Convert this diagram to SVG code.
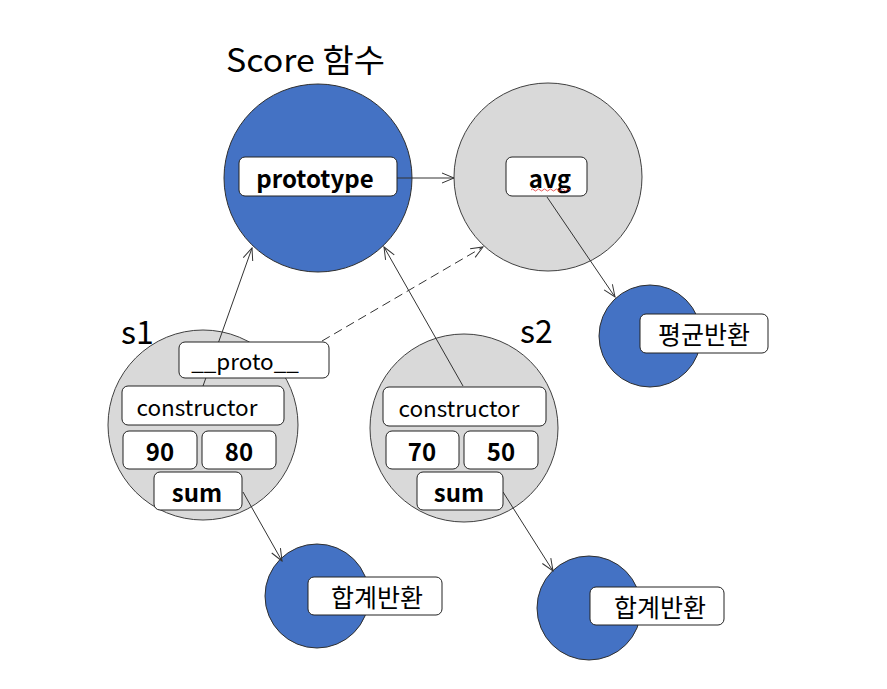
<svg xmlns="http://www.w3.org/2000/svg" width="887" height="689" viewBox="0 0 887 689">
<defs>
<marker id="arr" viewBox="0 0 14 12" refX="13" refY="6" markerWidth="14" markerHeight="12" markerUnits="userSpaceOnUse" orient="auto">
<path d="M1,1 L13,6 L1,11" fill="none" stroke="#333" stroke-width="1"/>
</marker>
<style>
.blue{fill:#4472C4;stroke:#2F2F2F;stroke-width:1}
.gray{fill:#D9D9D9;stroke:#404040;stroke-width:1}
.box{fill:#fff;stroke:#222;stroke-width:1}
.t{font-family:"Noto Sans CJK KR","Noto Sans",sans-serif;fill:#000;text-anchor:middle;dominant-baseline:central}
.b{font-weight:bold;font-size:24px}
.r{font-size:22.5px}
.k{font-size:25px}
.lbl{font-family:"Noto Sans CJK KR","Noto Sans",sans-serif;font-size:32px;fill:#000}
.c{fill:none;stroke:#333;stroke-width:1}
</style>
</defs>
<rect width="887" height="689" fill="#fff"/>

<g id="score">
<text class="lbl" x="226" y="72" textLength="159" lengthAdjust="spacingAndGlyphs">Score 함수</text>
<circle class="blue" cx="318" cy="178" r="94"/>
</g>
<g id="avgobj">
<circle class="gray" cx="548" cy="177" r="94"/>
</g>
<g id="s1">
<text class="lbl" x="121" y="344">s1</text>
<circle class="gray" cx="203" cy="425" r="95"/>
</g>
<g id="s2">
<text class="lbl" x="520" y="343">s2</text>
<circle class="gray" cx="464" cy="428" r="94"/>
</g>
<g id="avgret">
<circle class="blue" cx="650" cy="336" r="51"/>
</g>
<g id="sumret1">
<circle class="blue" cx="317" cy="596" r="52"/>
</g>
<g id="sumret2">
<circle class="blue" cx="589" cy="608" r="52"/>
</g>

<g id="connectors">
<line class="c" x1="397" y1="178" x2="454" y2="178" marker-end="url(#arr)"/>
<line class="c" x1="203" y1="386" x2="252" y2="248" marker-end="url(#arr)"/>
<line class="c" x1="463" y1="386" x2="384" y2="247" marker-end="url(#arr)"/>
<line class="c" x1="322" y1="341" x2="483" y2="247" stroke-dasharray="9,5" marker-end="url(#arr)"/>
<line class="c" x1="547" y1="197" x2="615" y2="297" marker-end="url(#arr)"/>
<line class="c" x1="243" y1="492" x2="282" y2="561" marker-end="url(#arr)"/>
<line class="c" x1="503" y1="492" x2="553" y2="571" marker-end="url(#arr)"/>
</g>

<g id="prototype">
<rect class="box" x="239" y="157" width="158" height="39" rx="6"/>
<text class="t b" x="315" y="177">prototype</text>
</g>
<g id="avg">
<rect class="box" x="506" y="157" width="81" height="39" rx="6"/>
<text class="t b" x="550" y="177">avg</text>
<path d="M531,190 q1.5,-2 3,0 t3,0 t3,0 t3,0 t3,0 t3,0 t3,0 t3,0 t3,0 t3,0 t3,0 t3,0 t3,0" fill="none" stroke="#E03030" stroke-width="0.8"/>
</g>
<g id="proto1">
<rect class="box" x="179" y="342" width="150" height="36" rx="6"/>
<text class="t r" x="245" y="360">__proto__</text>
</g>
<g id="constructor1">
<rect class="box" x="122" y="386" width="162" height="39" rx="6"/>
<text class="t r" x="197" y="406">constructor</text>
</g>
<g id="v90">
<rect class="box" x="123" y="431" width="74" height="38" rx="6"/>
<text class="t b" x="160" y="450">90</text>
</g>
<g id="v80">
<rect class="box" x="202" y="431" width="74" height="38" rx="6"/>
<text class="t b" x="239" y="450">80</text>
</g>
<g id="sum1">
<rect class="box" x="154" y="472" width="88" height="38" rx="6"/>
<text class="t b" x="197" y="491">sum</text>
</g>
<g id="constructor2">
<rect class="box" x="383" y="387" width="163" height="39" rx="6"/>
<text class="t r" x="459" y="407">constructor</text>
</g>
<g id="v70">
<rect class="box" x="386" y="431" width="73" height="38" rx="6"/>
<text class="t b" x="422" y="450">70</text>
</g>
<g id="v50">
<rect class="box" x="464" y="431" width="74" height="38" rx="6"/>
<text class="t b" x="501" y="450">50</text>
</g>
<g id="sum2">
<rect class="box" x="417" y="472" width="86" height="38" rx="6"/>
<text class="t b" x="459" y="491">sum</text>
</g>
<g id="avglabel">
<rect class="box" x="640" y="314" width="128" height="39" rx="6"/>
<text class="t k" x="704" y="333">평균반환</text>
</g>
<g id="sumlabel1">
<rect class="box" x="308" y="577" width="134" height="38" rx="6"/>
<text class="t k" x="377" y="596">합계반환</text>
</g>
<g id="sumlabel2">
<rect class="box" x="590" y="587" width="134" height="38" rx="6"/>
<text class="t k" x="660" y="606">합계반환</text>
</g>
</svg>
